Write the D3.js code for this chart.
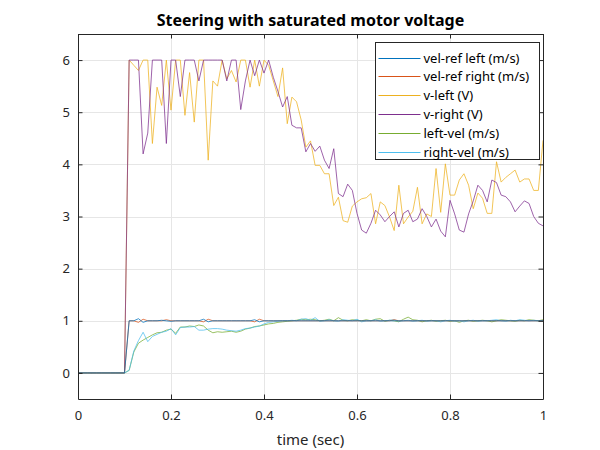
<!DOCTYPE html>
<html><head><meta charset="utf-8">
<script src="https://cdn.jsdelivr.net/npm/d3@7"></script>
<style>body{margin:0;background:#fff}svg{display:block}text{font-family:"Noto Sans",sans-serif}</style>
</head><body>
<svg id="chart" width="600" height="450"></svg>
<script>
// time grid: 0 .. 1 s, step 0.01 s
const time = d3.range(0, 101).map(i => i / 100);
const zeros = new Array(11).fill(0); // t = 0.00 .. 0.10

const velRefLeft = zeros.concat([
 1.0,1.0,1.04,0.97,1.0,1.0,1.0,1.01,1.0,0.99,
 1.0,1.0,1.0,1.0,1.0,1.0,1.03,0.98,1.0,1.0,
 1.0,1.0,1.0,1.0,1.0,1.0,1.0,1.02,0.98,1.0,
 1.0,1.0,1.0,1.0,1.0,1.0,1.0,1.0,1.0,1.0,
 1.0,1.0,1.0,1.0,1.0,1.0,1.0,1.0,1.0,1.0,
 1.0,1.0,1.0,1.0,1.0,1.0,1.0,1.0,1.0,1.0,
 1.0,1.0,1.0,1.0,1.0,1.0,1.0,1.0,1.0,1.0,
 1.0,1.0,1.0,1.0,1.0,1.0,1.0,1.0,1.0,1.0,
 1.0,1.0,1.0,1.0,1.0,1.0,1.0,1.0,1.0,1.0]);

const velRefRight = zeros.concat([
 1.0,1.0,0.97,1.03,1.0,1.0,1.0,1.0,1.02,1.0,
 1.0,1.0,1.0,1.0,1.0,1.0,0.98,1.03,1.0,1.0,
 1.0,1.0,1.0,1.0,1.0,1.0,1.0,0.98,1.03,1.0,
 1.0,1.0,1.0,1.0,1.0,1.0,1.0,1.0,1.0,1.0,
 1.0,1.0,1.0,1.0,1.0,1.0,1.0,1.0,1.0,1.0,
 1.0,1.0,1.0,1.0,1.0,1.0,1.0,1.02,1.0,1.0,
 1.0,1.0,1.0,1.0,1.0,1.0,1.0,1.0,1.0,1.0,
 1.0,1.0,1.0,1.0,1.0,1.0,1.0,1.0,1.0,1.0,
 1.0,1.0,1.0,1.0,1.0,1.0,1.0,1.0,1.0,1.0]);

const vLeft = zeros.concat([
 6,5.9,5.8,6,6,4.4,5.48,5.13,6,5.04,
 6,6,4.94,5.76,4.81,6,6,4.08,5.6,5.5,
 6,5.64,5.8,5.58,6,6,5.48,6,5.5,6,
 5.9,5.6,5.3,5.85,4.78,5.29,5.2,4.85,4.33,4.45,
 3.98,3.98,3.82,3.82,3.21,3.37,2.92,2.89,3.2,3.28,
 3.34,3.36,3.44,2.86,3.28,3.21,2.99,2.73,3.6,2.86,
 2.99,3.1,3.56,2.86,3.05,3.0,3.92,3.08,4.01,3.41,
 3.41,3.7,3.82,3.6,3.15,3.45,3.35,3.06,3.06,4.05,
 3.66,3.75,3.82,3.89,3.66,3.72,3.72,3.5,3.5,4.46]);

const vRight = zeros.concat([
 6,6,6,4.2,4.6,6,6,6,4.4,6,
 6,5.3,6,6,6,5.6,6,6,6,6,
 6,5.6,6,6,5.05,5.6,6,5.7,6,5.75,
 6,5.67,5.4,5.1,5.3,4.75,4.7,4.7,4.24,4.4,
 4.25,4.35,4.08,3.92,4.3,3.44,3.38,3.62,3.5,3.06,
 2.74,2.68,2.87,3.12,3.03,2.9,3.0,3.09,2.8,3.06,
 3.12,2.9,2.95,3.15,3.0,2.8,2.95,2.72,2.61,3.31,
 3.05,2.74,2.7,3.05,3.3,3.6,3.5,3.28,3.7,3.65,
 3.41,3.38,3.28,3.09,3.2,3.3,3.25,3.0,2.87,2.82]);

const leftVel = zeros.concat([
 0.05,0.4,0.57,0.63,0.68,0.73,0.77,0.78,0.82,0.84,
 0.76,0.88,0.88,0.9,0.89,0.92,0.9,0.82,0.77,0.79,
 0.78,0.79,0.8,0.78,0.8,0.84,0.86,0.89,0.9,0.92,
 0.94,0.95,0.97,0.98,0.99,1.0,1.01,1.03,1.02,1.03,
 1.02,1.0,1.01,1.03,1.0,1.06,1.01,1.0,1.02,1.01,
 1.0,1.02,1.0,1.03,1.04,0.99,1.01,1.0,0.98,1.03,
 1.07,1.02,1.01,0.98,1.0,1.01,0.99,1.0,1.01,0.99,
 1.0,0.97,1.0,1.01,0.99,1.0,1.01,1.0,0.98,1.0,
 1.02,1.01,1.0,0.99,1.01,1.0,1.02,1.01,1.0,1.02]);

const rightVel = zeros.concat([
 0.05,0.42,0.62,0.78,0.6,0.7,0.74,0.78,0.8,0.85,
 0.73,0.87,0.88,0.88,0.89,0.82,0.82,0.84,0.85,0.85,
 0.84,0.82,0.81,0.8,0.82,0.85,0.86,0.88,0.9,0.94,
 0.97,0.98,0.99,1.0,1.0,1.01,1.0,1.03,1.04,1.01,
 1.06,0.99,1.0,1.02,1.0,0.99,1.02,1.01,1.0,1.03,
 0.98,1.0,1.0,1.02,0.99,1.0,1.01,1.02,0.99,1.0,
 1.01,0.99,1.0,1.01,0.99,1.0,1.0,0.98,1.0,1.01,
 0.99,1.0,0.98,1.0,1.01,0.99,1.0,1.0,1.01,1.02,
 1.0,0.99,1.01,1.0,1.02,1.01,1.0,1.01,1.0,1.0]);

const seriesNames = ["vel-ref left (m/s)","vel-ref right (m/s)","v-left (V)","v-right (V)","left-vel (m/s)","right-vel (m/s)"];
const seriesColors = ["#0072BD","#D95319","#EDB120","#7E2F8E","#77AC30","#4DBEEE"];
const seriesData = [velRefLeft, velRefRight, vLeft, vRight, leftVel, rightVel];
const drawOrder = [2,3,4,5,1,0];

const xTicks = [0,0.2,0.4,0.6,0.8,1];
const yTicks = [0,1,2,3,4,5,6];
const titleText = "Steering with saturated motor voltage";
const xLabel = "time (sec)";

const svg = d3.select("#chart");
const L = 78, R = 543, T = 34, B = 399;
const x = d3.scaleLinear().domain([0,1]).range([L,R]);
const y = d3.scaleLinear().domain([-0.5,6.5]).range([B,T]);
const axisCol = "#262626";
const lineW = 0.75;

// grid
svg.append("g").selectAll("line").data(xTicks).join("line")
  .attr("x1", d => Math.round(x(d))+0.5).attr("x2", d => Math.round(x(d))+0.5).attr("y1", T).attr("y2", B)
  .attr("stroke", "#e6e6e6").attr("stroke-width", 1);
svg.append("g").selectAll("line").data(yTicks).join("line")
  .attr("y1", d => Math.round(y(d))+0.5).attr("y2", d => Math.round(y(d))+0.5).attr("x1", L).attr("x2", R)
  .attr("stroke", "#e6e6e6").attr("stroke-width", 1);

// lines
svg.append("clipPath").attr("id","clip").append("rect")
  .attr("x", L).attr("y", T).attr("width", R-L).attr("height", B-T);
const lineGen = d3.line().x((d,i) => x(time[i])).y(d => y(d));
const lg = svg.append("g").attr("clip-path","url(#clip)");
drawOrder.forEach(k => {
  lg.append("path").datum(seriesData[k]).attr("d", lineGen)
    .attr("fill","none").attr("stroke", seriesColors[k]).attr("stroke-width", lineW)
    .attr("stroke-linejoin","round");
});

// axes (box with inward ticks)
const tl = 4.5;
const axB = d3.axisBottom(x).tickValues(xTicks).tickSizeInner(-tl).tickSizeOuter(0).tickPadding(12)
  .tickFormat(d => d === 0 || d === 1 ? String(d) : d3.format(".1f")(d));
const gb = svg.append("g").attr("transform", `translate(0,${B})`).call(axB);
const axT = d3.axisTop(x).tickValues(xTicks).tickSizeInner(-tl).tickSizeOuter(0).tickFormat("");
const gt = svg.append("g").attr("transform", `translate(0,${T})`).call(axT);
const axL = d3.axisLeft(y).tickValues(yTicks).tickSizeInner(-tl).tickSizeOuter(0).tickPadding(8).tickFormat(d3.format("d"));
const gl = svg.append("g").attr("transform", `translate(${L},0)`).call(axL);
const axR = d3.axisRight(y).tickValues(yTicks).tickSizeInner(-tl).tickSizeOuter(0).tickFormat("");
const gr = svg.append("g").attr("transform", `translate(${R},0)`).call(axR);
[gb,gt,gl,gr].forEach(g => {
  g.select(".domain").attr("stroke", axisCol).attr("stroke-width",1);
  g.selectAll(".tick line").attr("stroke", axisCol);
  g.selectAll("text").attr("fill", axisCol).style("font-size","13px").style("font-family","Noto Sans");
});

// title & label
svg.append("text").attr("x", (L+R)/2).attr("y", 26).attr("text-anchor","middle")
  .style("font-size","16px").style("font-weight","bold").attr("fill","#000").text(titleText);
svg.append("text").attr("x", (L+R)/2).attr("y", 445).attr("text-anchor","middle")
  .style("font-size","15px").attr("fill", axisCol).text(xLabel);

// legend
const lx = 375.5, ly = 42.5, lw = 164, lh = 117, rowH = 18.8;
const leg = svg.append("g");
leg.append("rect").attr("x", lx).attr("y", ly).attr("width", lw).attr("height", lh)
  .attr("fill","#fff").attr("stroke", axisCol).attr("stroke-width",1);
seriesNames.forEach((name,i) => {
  const cy = Math.round(ly + 15 + i*rowH) + 0.5;
  leg.append("line").attr("x1", lx+3).attr("x2", lx+45).attr("y1", cy).attr("y2", cy)
    .attr("stroke", seriesColors[i]).attr("stroke-width", 1);
  leg.append("text").attr("x", lx+48).attr("y", cy).attr("dy","0.35em")
    .style("font-size","13px").attr("fill","#000").text(name);
});
</script>
</body></html>
